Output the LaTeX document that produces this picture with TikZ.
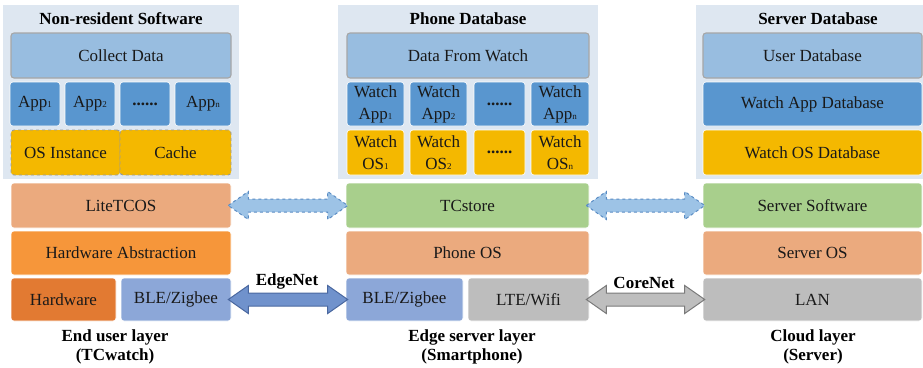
\documentclass[tikz,border=0pt]{standalone}
\usepackage{fontspec}
\setmainfont{Liberation Serif}
\usetikzlibrary{calc}

\definecolor{panel}{HTML}{DEE7F1}
\definecolor{lblue}{HTML}{98BDE0}
\definecolor{mblue}{HTML}{5996CF}
\definecolor{gold}{HTML}{F4B800}
\definecolor{salmon}{HTML}{EBAA7E}
\definecolor{orng}{HTML}{F6963A}
\definecolor{dorng}{HTML}{E27A32}
\definecolor{bble}{HTML}{8CA7D8}
\definecolor{grn}{HTML}{A8CF8C}
\definecolor{gry}{HTML}{BDBDBD}
\definecolor{arrblue}{HTML}{9DC3E6}
\definecolor{arrblueln}{HTML}{5A8CC4}
\definecolor{arrdark}{HTML}{7092CC}
\definecolor{arrdarkln}{HTML}{4A68A0}
\definecolor{arrgry}{HTML}{BEBEBE}
\definecolor{arrgryln}{HTML}{7A7A7A}

\tikzset{
  blk/.style={rounded corners=3pt, inner sep=0pt, align=center,
    font=\fontsize{17}{22}\selectfont, text=black!90, draw=white, line width=0.6pt},
  topblk/.style={draw=black!35, line width=1.1pt},
  dashblk/.style={draw=black!40, dashed, line width=0.9pt},
  head/.style={font=\bfseries\fontsize{17}{19}\selectfont, inner sep=0pt},
  foot/.style={font=\bfseries\fontsize{17}{19}\selectfont, inner sep=0pt, align=center},
  netlbl/.style={font=\bfseries\fontsize{17}{19}\selectfont, inner sep=0pt},
  softlink/.style={fill=arrblue, draw=arrblueln, dashed, line width=1pt},
  edgelink/.style={fill=arrdark, draw=arrdarkln, line width=1pt},
  corelink/.style={fill=arrgry, draw=arrgryln, line width=1pt},
}

% block from (x1,y1) to (x2,y2): name, fill, x1, y1, x2, y2, text
\newcommand\blk[8][]{\node[blk,fill=#3,minimum width={(#6-#4)*1pt},minimum height={(#7-#5)*1pt},#1]
  (#2) at ({(#4+#6)/2},{(#5+#7)/2}) {#8};}
\newcommand\idx[1]{{\fontsize{9}{9}\selectfont #1}}
% wide double arrow between the east side of one node and the west side of another
\newcommand\dblarrow[3]{\path[#3] let \p1=(#1.east), \p2=(#2.west) in
  (\x1-3pt,\y1) -- (\x1+17pt,\y1+14pt) -- (\x1+17pt,\y1+6.5pt) -- (\x2-18pt,\y1+6.5pt)
  -- (\x2-18pt,\y1+14pt) -- (\x2+2pt,\y1) -- (\x2-18pt,\y1-14pt) -- (\x2-18pt,\y1-6.5pt)
  -- (\x1+17pt,\y1-6.5pt) -- (\x1+17pt,\y1-14pt) -- cycle;}

\begin{document}
\begin{tikzpicture}[x=1pt,y=-1pt]
\useasboundingbox (0,0) rectangle (923,367);

% software / database panels
\fill[panel] (3,5) rectangle (239,179);
\fill[panel] (338,5) rectangle (598,179);
\fill[panel] (696,5) rectangle (930,179);
\node[head] (hdrL) at (121,19) {Non-resident Software};
\node[head] (hdrM) at (468,19) {Phone Database};
\node[head] (hdrR) at (818,19) {Server Database};

% ---- end user layer (watch)
\blk[topblk]{collect}{lblue}{11}{33}{231}{78}{Collect Data}
\blk{app1}{mblue}{10}{82}{60}{126}{App\idx{1}}
\blk{app2}{mblue}{65}{82}{115}{126}{App\idx{2}}
\blk{appd}{mblue}{120}{82}{170}{126}{\textbf{......}}
\blk{appn}{mblue}{175}{82}{231}{126}{App\idx{n}}
\blk[dashblk]{osinst}{gold}{11}{130}{120}{175}{OS Instance}
\blk[dashblk]{cache}{gold}{120}{130}{231}{175}{Cache}
\blk{lite}{salmon}{11}{183}{231}{228}{LiteTCOS}
\blk{hwabs}{orng}{11}{231}{231}{275}{Hardware Abstraction}
\blk{hw}{dorng}{11}{278}{116}{321}{Hardware}
\blk{bleL}{bble}{121}{278}{231}{321}{BLE/Zigbee}
\node[foot] (footL) at (115,347) {End user layer\\(TCwatch)};

% ---- edge server layer (phone)
\blk[topblk]{dfw}{lblue}{347}{33}{589}{78}{Data From Watch}
\blk{wapp1}{mblue}{347}{82}{404}{126}{Watch\\App\idx{1}}
\blk{wapp2}{mblue}{410}{82}{467}{126}{Watch\\App\idx{2}}
\blk{wappd}{mblue}{474}{82}{525}{126}{\textbf{......}}
\blk{wappn}{mblue}{531}{82}{589}{126}{Watch\\App\idx{n}}
\blk{wos1}{gold}{347}{130}{404}{175}{Watch\\OS\idx{1}}
\blk{wos2}{gold}{410}{130}{467}{175}{Watch\\OS\idx{2}}
\blk{wosd}{gold}{474}{130}{525}{175}{\textbf{......}}
\blk{wosn}{gold}{531}{130}{589}{175}{Watch\\OS\idx{n}}
\blk{tcstore}{grn}{346}{183}{589}{228}{TCstore}
\blk{phoneos}{salmon}{346}{231}{589}{275}{Phone OS}
\blk{bleM}{bble}{346}{278}{463}{321}{BLE/Zigbee}
\blk{lte}{gry}{468}{278}{589}{321}{LTE/Wifi}
\node[foot] (footM) at (472,347) {Edge server layer\\(Smartphone)};

% ---- cloud layer (server)
\blk[topblk]{userdb}{lblue}{703}{33}{922}{78}{User Database}
\blk{wappdb}{mblue}{703}{82}{922}{126}{Watch App Database}
\blk{wosdb}{gold}{703}{130}{922}{175}{Watch OS Database}
\blk{srvsw}{grn}{703}{183}{922}{228}{Server Software}
\blk{srvos}{salmon}{703}{231}{922}{275}{Server OS}
\blk{lan}{gry}{703}{278}{922}{321}{LAN}
\node[foot] (footR) at (813,347) {Cloud layer\\(Server)};

% ---- links between layers
\dblarrow{lite}{tcstore}{softlink}
\dblarrow{tcstore}{srvsw}{softlink}
\dblarrow{bleL}{bleM}{edgelink}
\dblarrow{lte}{lan}{corelink}
\node[netlbl] (edgenet) at (287,281) {EdgeNet};
\node[netlbl] (corenet) at (644,283) {CoreNet};
\end{tikzpicture}
\end{document}
